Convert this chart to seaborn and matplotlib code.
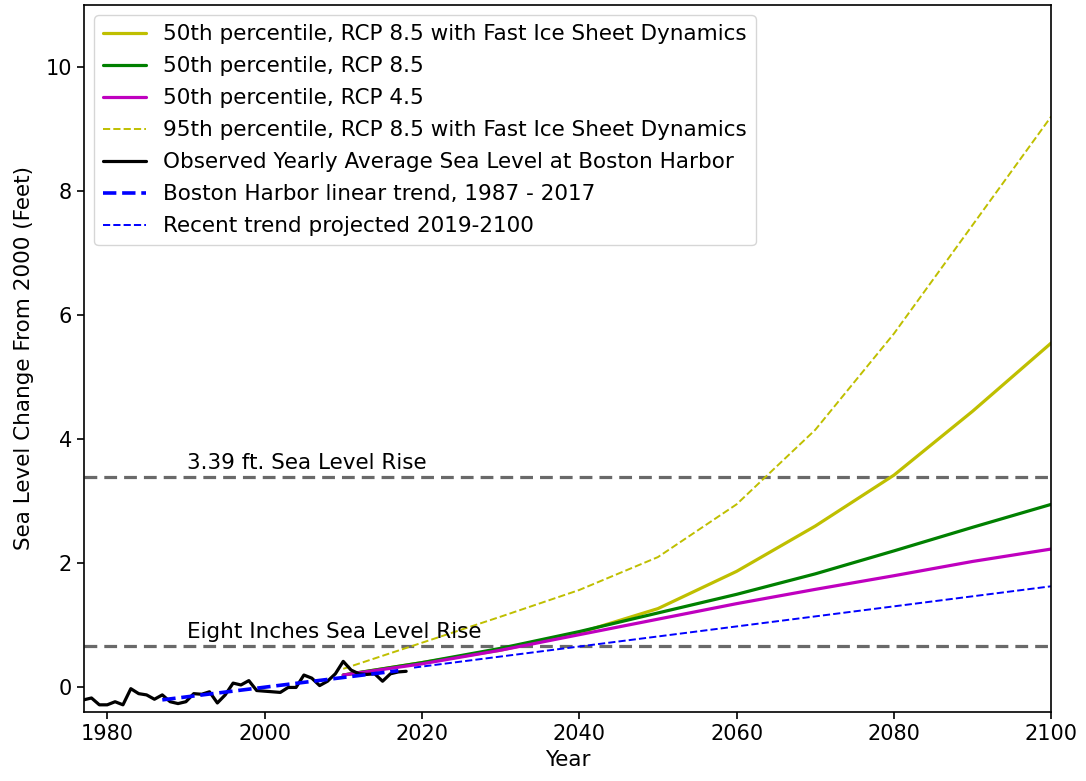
import matplotlib
matplotlib.use("Agg")
import matplotlib.pyplot as plt
import seaborn as sns

# Observed yearly average sea level at Boston Harbor (ft, relative to 2000)
obs_years = list(range(1977, 2019))
obs_level = [-0.20, -0.17, -0.28, -0.28, -0.23, -0.28, -0.02, -0.10, -0.12, -0.19,
             -0.12, -0.23, -0.26, -0.23, -0.10, -0.11, -0.07, -0.25, -0.12, 0.07,
             0.04, 0.11, -0.05, -0.06, -0.07, -0.08, 0.00, 0.00, 0.20, 0.15,
             0.03, 0.10, 0.22, 0.42, 0.28, 0.22, 0.21, 0.22, 0.10, 0.22,
             0.25, 0.26]

# linear trend and projected trend
trend_years = [1987, 2017]
trend_level = [-0.20, 0.27]
proj_trend_years = [2019, 2100]
proj_trend_level = [0.32, 1.63]

# projections
proj_years = [2010, 2020, 2030, 2040, 2050, 2060, 2070, 2080, 2090, 2100]
p50_rcp85_fast = [0.20, 0.40, 0.60, 0.88, 1.27, 1.87, 2.60, 3.42, 4.45, 5.55]
p50_rcp85 = [0.20, 0.40, 0.63, 0.90, 1.20, 1.50, 1.83, 2.20, 2.58, 2.95]
p50_rcp45 = [0.20, 0.38, 0.60, 0.85, 1.10, 1.35, 1.58, 1.80, 2.03, 2.23]
p95_rcp85_fast = [0.30, 0.72, 1.14, 1.57, 2.10, 2.95, 4.15, 5.70, 7.45, 9.20]

# reference levels
rise_339 = 3.39
rise_8in = 8 / 12

sns.set_style("ticks")
plt.rcParams['font.family'] = ['DejaVu Sans']
plt.rcParams['text.color'] = 'black'
plt.rcParams['axes.labelcolor'] = 'black'
plt.rcParams['xtick.color'] = 'black'
plt.rcParams['ytick.color'] = 'black'

fs = 15.5

fig = plt.figure(figsize=(10.86, 7.81), dpi=100)
ax = fig.add_axes([0.077, 0.088, 0.891, 0.906])

ax.axhline(rise_339, color='dimgray', linestyle='--', linewidth=2.3, dashes=(4, 2.2))
ax.axhline(rise_8in, color='dimgray', linestyle='--', linewidth=2.3, dashes=(4, 2.2))
ax.text(1990.2, rise_339 + 0.07, "3.39 ft. Sea Level Rise", fontsize=fs, va='bottom')
ax.text(1990.2, rise_8in + 0.07, "Eight Inches Sea Level Rise", fontsize=fs, va='bottom')

sns.lineplot(x=proj_years, y=p50_rcp85_fast, color='y', linewidth=2.3, ax=ax,
             label="50th percentile, RCP 8.5 with Fast Ice Sheet Dynamics")
sns.lineplot(x=proj_years, y=p50_rcp85, color='g', linewidth=2.3, ax=ax,
             label="50th percentile, RCP 8.5")
sns.lineplot(x=proj_years, y=p50_rcp45, color='m', linewidth=2.3, ax=ax,
             label="50th percentile, RCP 4.5")
sns.lineplot(x=proj_years, y=p95_rcp85_fast, color='y', linewidth=1.4, linestyle='--', ax=ax,
             label="95th percentile, RCP 8.5 with Fast Ice Sheet Dynamics")
sns.lineplot(x=obs_years, y=obs_level, color='k', linewidth=2.3, ax=ax,
             label="Observed Yearly Average Sea Level at Boston Harbor")
sns.lineplot(x=trend_years, y=trend_level, color='b', linewidth=2.6, linestyle='--', ax=ax,
             label="Boston Harbor linear trend, 1987 - 2017")
sns.lineplot(x=proj_trend_years, y=proj_trend_level, color='b', linewidth=1.4, linestyle='--', ax=ax,
             label="Recent trend projected 2019-2100")

ax.set_xlim(1977, 2100)
ax.set_ylim(-0.4, 11)
ax.set_xticks([1980, 2000, 2020, 2040, 2060, 2080, 2100])
ax.set_yticks([0, 2, 4, 6, 8, 10])
ax.tick_params(labelsize=15, length=5, width=1.2)
ax.set_xlabel("Year", fontsize=fs, labelpad=4)
ax.set_ylabel("Sea Level Change From 2000 (Feet)", fontsize=fs, labelpad=8)
for s in ax.spines.values():
    s.set_visible(True)
    s.set_color('black')
    s.set_linewidth(1.2)

ax.legend(loc='upper left', frameon=True, fontsize=fs, framealpha=0.8,
          edgecolor='#cccccc', fancybox=True, borderaxespad=0.5, labelspacing=0.56)

fig.savefig("out.png", dpi=100)
